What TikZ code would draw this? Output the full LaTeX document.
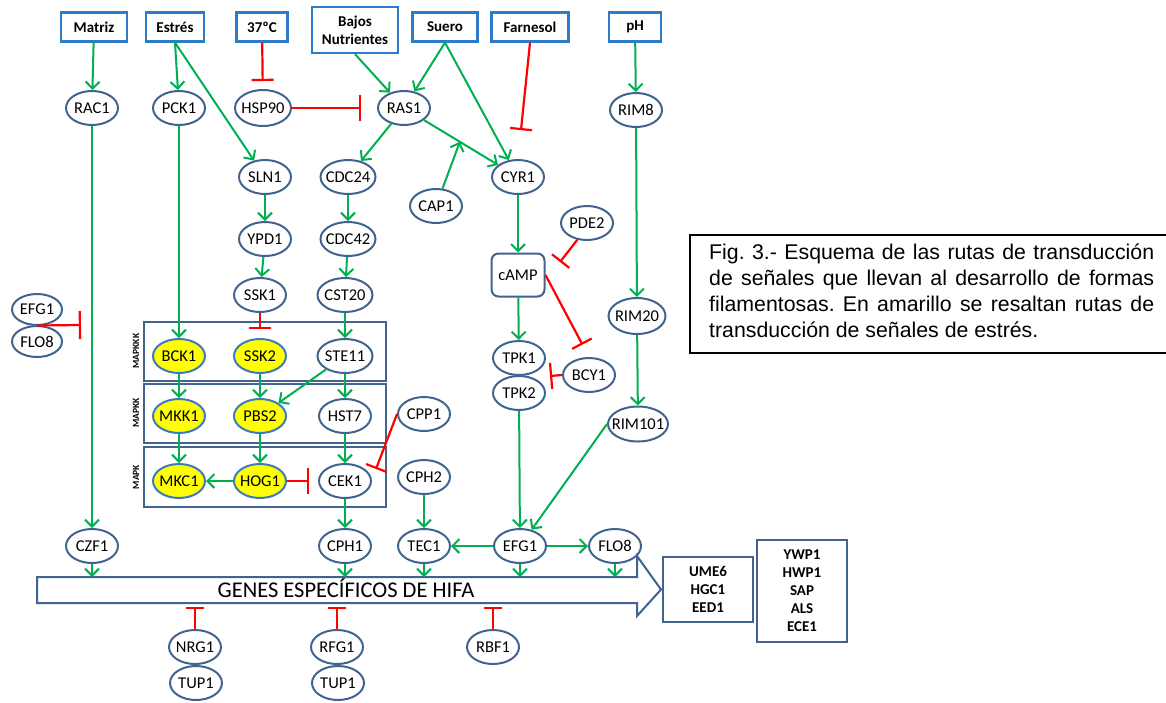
\documentclass[tikz,border=0pt]{standalone}
\usepackage{fontspec}
\setmainfont{Carlito}
\newfontfamily\capfont{Liberation Sans}
\usetikzlibrary{arrows.meta,shapes.geometric,calc}
\definecolor{gr}{HTML}{00B050}
\definecolor{rd}{HTML}{FF0000}
\definecolor{eb}{HTML}{41648F}
\definecolor{bb}{HTML}{2E7CC8}
\definecolor{yb}{HTML}{3A7AC0}
\definecolor{yf}{HTML}{FFFF00}
\frenchspacing
\begin{document}
\begin{tikzpicture}[x=1pt,y=-1pt,
  el/.style={ellipse,draw=eb,line width=2pt,fill=white,minimum width=52pt,minimum height=34pt,inner xsep=-12pt,inner ysep=0pt,font=\fontsize{16.5}{17}\selectfont},
  yel/.style={el,fill=yf,draw=yb},
  src/.style={draw=bb,line width=2.2pt,fill=white,inner sep=0pt,font=\bfseries\fontsize{15}{18}\selectfont,minimum height=29pt},
  act/.style={draw=gr,line width=2pt,-{Straight Barb[length=7pt,width=14pt]}},
  inh/.style={draw=rd,line width=2.2pt,-{Bar[width=22pt]}},
  mbox/.style={draw=eb,line width=2pt},
  gbox/.style={draw=eb,line width=2pt,fill=white,align=center,font=\bfseries\fontsize{15}{18}\selectfont},
  mlab/.style={rotate=90,font=\bfseries\fontsize{9.5}{10}\selectfont},
  capline/.style={anchor=base west,inner sep=0pt,font=\capfont\fontsize{21.3}{26}\selectfont}
]
\useasboundingbox (0,0) rectangle (1166,702);

% MAPK boxes
\draw[mbox] (144,322) rectangle (386,381);
\draw[mbox] (144,384) rectangle (386,443);
\draw[mbox] (144,447) rectangle (386,507);
\node[mlab] (lk3) at (136,351) {MAPKKK};
\node[mlab] (lk2) at (136,413) {MAPKK};
\node[mlab] (lk1) at (136,477) {MAPK};

% source boxes
\node[src,minimum width=66pt] (Matriz) at (94,27) {Matriz};
\node[src,minimum width=58pt] (Estres) at (175,27) {Estrés};
\node[src,minimum width=51pt] (T37) at (262,27) {37ºC};
\node[src,minimum width=86pt,minimum height=46pt,align=center] (Bajos) at (355,30) {Bajos\\Nutrientes};
\node[src,minimum width=65pt] (Suero) at (445,27) {Suero};
\node[src,minimum width=77pt] (Farnesol) at (530,27) {Farnesol};
\node[src,minimum width=52pt] (pH) at (635,27) {pH};

% ellipses
\node[el] (RAC1) at (92,108) {RAC1};
\node[el] (PCK1) at (179,108) {PCK1};
\node[el,minimum width=56pt,minimum height=36pt] (HSP90) at (263,108) {HSP90};
\node[el] (RAS1) at (404,108) {RAS1};
\node[el] (RIM8) at (636,110) {RIM8};
\node[el] (SLN1) at (265,177) {SLN1};
\node[el,minimum width=55pt] (CDC24) at (348,177) {CDC24};
\node[el] (CYR1) at (518,177) {CYR1};
\node[el] (CAP1) at (436,206) {CAP1};
\node[el] (PDE2) at (587,223) {PDE2};
\node[el] (YPD1) at (265,239) {YPD1};
\node[el,minimum width=55pt] (CDC42) at (348,239) {CDC42};
\node[draw=eb,line width=2pt,rounded corners=7pt,minimum width=53pt,minimum height=43pt,fill=white,font=\fontsize{16.5}{17}\selectfont] (cAMP) at (518,275) {cAMP};
\node[el] (SSK1) at (260,295) {SSK1};
\node[el,minimum width=55pt] (CST20) at (345,295) {CST20};
\node[el,minimum width=50pt,minimum height=31pt] (EFGl) at (37,309.5) {EFG1};
\node[el,minimum width=50pt,minimum height=31pt] (FLOl) at (37,341.5) {FLO8};
\node[el,minimum width=57pt,minimum height=36pt] (RIM20) at (637,316) {RIM20};
\node[yel] (BCK1) at (179,356) {BCK1};
\node[yel] (SSK2) at (260,356) {SSK2};
\node[el,minimum width=55pt] (STE11) at (345,356) {STE11};
\node[el] (TPK1) at (519,358) {TPK1};
\node[el] (TPK2) at (519,393) {TPK2};
\node[el] (BCY1) at (589,375) {BCY1};
\node[yel] (MKK1) at (179,416) {MKK1};
\node[yel] (PBS2) at (260,416) {PBS2};
\node[el] (HST7) at (345,416) {HST7};
\node[el] (CPP1) at (424,414) {CPP1};
\node[el,minimum width=60pt,minimum height=35pt] (RIM101) at (638,424) {RIM101};
\node[yel] (MKC1) at (179,481) {MKC1};
\node[yel] (HOG1) at (260,481) {HOG1};
\node[el] (CEK1) at (345,481) {CEK1};
\node[el] (CPH2) at (424,477) {CPH2};
\node[el] (CZF1) at (92,546) {CZF1};
\node[el] (CPH1) at (345,546) {CPH1};
\node[el] (TEC1) at (424,546) {TEC1};
\node[el] (EFGb) at (520,546) {EFG1};
\node[el] (FLOb) at (615,546) {FLO8};
\node[el] (NRG1) at (195,647) {NRG1};
\node[el] (TUPa) at (196,683) {TUP1};
\node[el] (RFG1) at (337,647) {RFG1};
\node[el] (TUPb) at (338,683) {TUP1};
\node[el] (RBF1) at (493,647) {RBF1};

% big arrow
\draw[draw=eb,line width=2pt,fill=white] (37,577) -- (637,577) -- (637,556) -- (661,589.5) -- (637,616) -- (637,603) -- (37,603) -- cycle;
\node[font=\fontsize{22.5}{24}\selectfont,anchor=base,inner sep=0pt] (genes) at (346,597) {GENES ESPECÍFICOS DE HIFA};
\coordinate (gtop) at (0,577);
\coordinate (gbot) at (0,603);

% right boxes
\node[gbox,minimum width=90pt,minimum height=65pt] (box1) at (708,589.5) {UME6\\HGC1\\EED1};
\node[gbox,minimum width=90pt,minimum height=102pt] (box2) at (802,591) {YWP1\\HWP1\\SAP\\ALS\\ECE1};

% caption
\draw[line width=2pt] (1170,235) -- (690,235) -- (690,353) -- (1170,353);
\node[capline] (cap1) at (709,259) {\makebox[445pt][s]{Fig. 3.- Esquema de las rutas de transducción}};
\node[capline] (cap2) at (709,285) {\makebox[445pt][s]{de señales que llevan al desarrollo de formas}};
\node[capline] (cap3) at (709,311) {\makebox[445pt][s]{filamentosas. En amarillo se resaltan rutas de}};
\node[capline] (cap4) at (709,337) {transducción de señales de estrés.};

% connectors
\draw[act] (Matriz) -- (RAC1);
\draw[act] (Estres.south) -- (PCK1);
\draw[act] (Estres.south) -- (SLN1);
\draw[inh,shorten >=8pt] (T37) -- (HSP90);
\draw[inh,shorten >=16pt,-{Bar[width=26pt]}] (HSP90) -- (RAS1);
\draw[act] (Bajos.south) -- (RAS1);
\draw[act] (Suero.south) -- (RAS1);
\draw[act] (Suero.south) -- (CYR1);
\draw[inh,shorten >=29pt] (Farnesol.south) -- (CYR1.north);
\draw[act] (RAS1) -- (CDC24);
\draw[act] (RAS1) -- (CYR1);
\coordinate (capT) at ($(RAS1)!0.49!(CYR1)$);
\draw[act] (CAP1) -- (capT);
\draw[act] (CYR1) -- (cAMP);
\coordinate (pdeT) at (560,262);
\draw[inh] (PDE2.240) -- (pdeT);
\draw[inh,shorten >=14pt] (cAMP.east) -- (BCY1.north);
\draw[act] (cAMP) -- (TPK1);
\coordinate (tpkT) at (550,376);
\draw[inh,-{Bar[width=26pt]}] (BCY1.west) -- (tpkT);
\draw[act] (TPK2) -- (EFGb);
\draw[act] (pH) -- (RIM8);
\draw[act] (RIM8) -- (RIM20);
\draw[act] (RIM20) -- (RIM101);
\draw[act] (RIM101.west) -- (EFGb);
\draw[act] (RAC1) -- (CZF1);
\draw[act] (PCK1) -- (BCK1);
\draw[act] (SLN1) -- (YPD1);
\draw[act] (YPD1) -- (SSK1);
\draw[inh,shorten >=9pt] (SSK1) -- (SSK2);
\draw[act] (CDC24) -- (CDC42);
\draw[act] (CDC42) -- (CST20);
\draw[act] (CST20) -- (STE11);
\draw[act] (STE11) -- (PBS2);
\draw[act] (STE11) -- (HST7);
\draw[act] (HST7) -- (CEK1);
\draw[act] (BCK1) -- (MKK1);
\draw[act] (MKK1) -- (MKC1);
\draw[act] (SSK2) -- (PBS2);
\draw[act] (PBS2) -- (HOG1);
\draw[act] (HOG1) -- (MKC1);
\draw[inh,shorten >=9pt,-{Bar[width=26pt]}] (HOG1) -- (CEK1);
\coordinate (cppT) at (376,469);
\draw[inh] (CPP1.west) -- (cppT);
\draw[act] (CEK1) -- (CPH1);
\draw[act] (CPH2) -- (TEC1);
\draw[act] (EFGb) -- (TEC1);
\draw[act] (EFGb) -- (FLOb);
\coordinate (efgJ) at ($(EFGl.south)!0.5!(FLOl.north)$);
\coordinate (czfT) at (81,325);
\draw[inh,-{Bar[width=28pt]}] (efgJ) -- (czfT);
\draw[act] (CZF1) -- (CZF1 |- gtop);
\draw[act] (CPH1) -- (CPH1 |- gtop);
\draw[act] (TEC1) -- (TEC1 |- gtop);
\draw[act] (EFGb) -- (EFGb |- gtop);
\draw[act] (FLOb) -- (FLOb |- gtop);
\draw[inh,shorten >=4pt,-{Bar[width=18pt]}] (NRG1) -- (NRG1 |- gbot);
\draw[inh,shorten >=4pt,-{Bar[width=18pt]}] (RFG1) -- (RFG1 |- gbot);
\draw[inh,shorten >=4pt,-{Bar[width=18pt]}] (RBF1) -- (RBF1 |- gbot);
\end{tikzpicture}
\end{document}
